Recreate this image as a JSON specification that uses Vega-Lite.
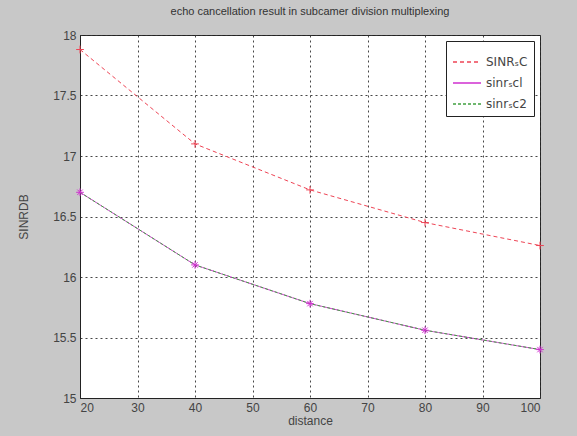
{
  "$schema": "https://vega.github.io/schema/vega-lite/v6.json",
  "autosize": {"type": "none"},
  "padding": {"left": 80, "top": 35, "right": 37, "bottom": 38},
  "width": 460,
  "height": 363,
  "background": "#c8c8c8",
  "config": {
    "font": "Liberation Sans",
    "view": {"fill": "white", "stroke": "#222", "strokeWidth": 1},
    "axis": {
      "labelFont": "Liberation Sans",
      "labelFontSize": 12,
      "labelColor": "#444",
      "titleFont": "Liberation Sans",
      "titleFontSize": 12,
      "titleFontWeight": "normal",
      "titleColor": "#444",
      "domainColor": "#222",
      "grid": true,
      "gridColor": "#333",
      "gridDash": [2, 3],
      "gridOpacity": 0.9,
      "ticks": false
    }
  },
  "title": {
    "text": "echo cancellation result in subcamer division multiplexing",
    "font": "Liberation Sans",
    "fontSize": 11,
    "fontWeight": "normal",
    "color": "#333",
    "anchor": "middle",
    "offset": 12
  },
  "data": {
    "values": [
      {"distance": 20, "series": "SINRₛC", "value": 17.88},
      {"distance": 40, "series": "SINRₛC", "value": 17.1},
      {"distance": 60, "series": "SINRₛC", "value": 16.72},
      {"distance": 80, "series": "SINRₛC", "value": 16.45},
      {"distance": 100, "series": "SINRₛC", "value": 16.26},
      {"distance": 20, "series": "sinrₛcl", "value": 16.7},
      {"distance": 40, "series": "sinrₛcl", "value": 16.1},
      {"distance": 60, "series": "sinrₛcl", "value": 15.78},
      {"distance": 80, "series": "sinrₛcl", "value": 15.56},
      {"distance": 100, "series": "sinrₛcl", "value": 15.4},
      {"distance": 20, "series": "sinrₛc2", "value": 16.7},
      {"distance": 40, "series": "sinrₛc2", "value": 16.1},
      {"distance": 60, "series": "sinrₛc2", "value": 15.78},
      {"distance": 80, "series": "sinrₛc2", "value": 15.56},
      {"distance": 100, "series": "sinrₛc2", "value": 15.4}
    ]
  },
  "encoding": {
    "x": {
      "field": "distance",
      "type": "quantitative",
      "title": "distance",
      "scale": {"domain": [20, 100], "nice": false},
      "axis": {"values": [20, 30, 40, 50, 60, 70, 80, 90, 100], "labelPadding": 4, "titlePadding": 2}
    },
    "y": {
      "field": "value",
      "type": "quantitative",
      "title": "SINRDB",
      "scale": {"domain": [15, 18], "nice": false, "zero": false},
      "axis": {"values": [15, 15.5, 16, 16.5, 17, 17.5, 18], "format": ".1~f", "labelPadding": 4, "titlePadding": 22}
    },
    "color": {
      "field": "series",
      "type": "nominal",
      "sort": null,
      "scale": {"domain": ["SINRₛC", "sinrₛcl", "sinrₛc2"], "range": ["#ee4455", "#d030d0", "#40a040"]},
      "legend": {
        "title": null,
        "orient": "top-right",
        "offset": 6,
        "fillColor": "white",
        "strokeColor": "#222",
        "padding": 6,
        "symbolType": "stroke",
        "symbolSize": 784,
        "symbolStrokeWidth": 1.5,
        "labelFont": "DejaVu Sans",
        "labelFontSize": 12,
        "labelColor": "#444",
        "rowPadding": 0,
        "encode": {
          "symbols": {
            "update": {
              "stroke": {"scale": "color", "field": "value"},
              "strokeDash": {"scale": "strokeDash", "field": "value"},
              "opacity": {"value": 1}
            }
          }
        }
      }
    }
  },
  "layer": [
    {
      "mark": {"type": "line", "strokeWidth": 1},
      "encoding": {
        "strokeDash": {
          "field": "series",
          "type": "nominal",
          "sort": null,
          "scale": {"domain": ["SINRₛC", "sinrₛcl", "sinrₛc2"], "range": [[4, 3], [1, 0], [3, 2]]},
          "legend": null
        },
        "order": {"field": "distance"}
      }
    },
    {
      "transform": [{"filter": "datum.series != 'sinrₛc2'"}],
      "mark": {"type": "point", "filled": false, "strokeWidth": 1, "size": 60, "opacity": 1},
      "encoding": {
        "shape": {
          "field": "series",
          "type": "nominal",
          "scale": {"domain": ["SINRₛC", "sinrₛcl"], "range": ["M-1,0L1,0M0,-1L0,1", "M-1,0L1,0M0,-1L0,1M-0.7,-0.7L0.7,0.7M-0.7,0.7L0.7,-0.7"]},
          "legend": null
        }
      }
    }
  ]
}
